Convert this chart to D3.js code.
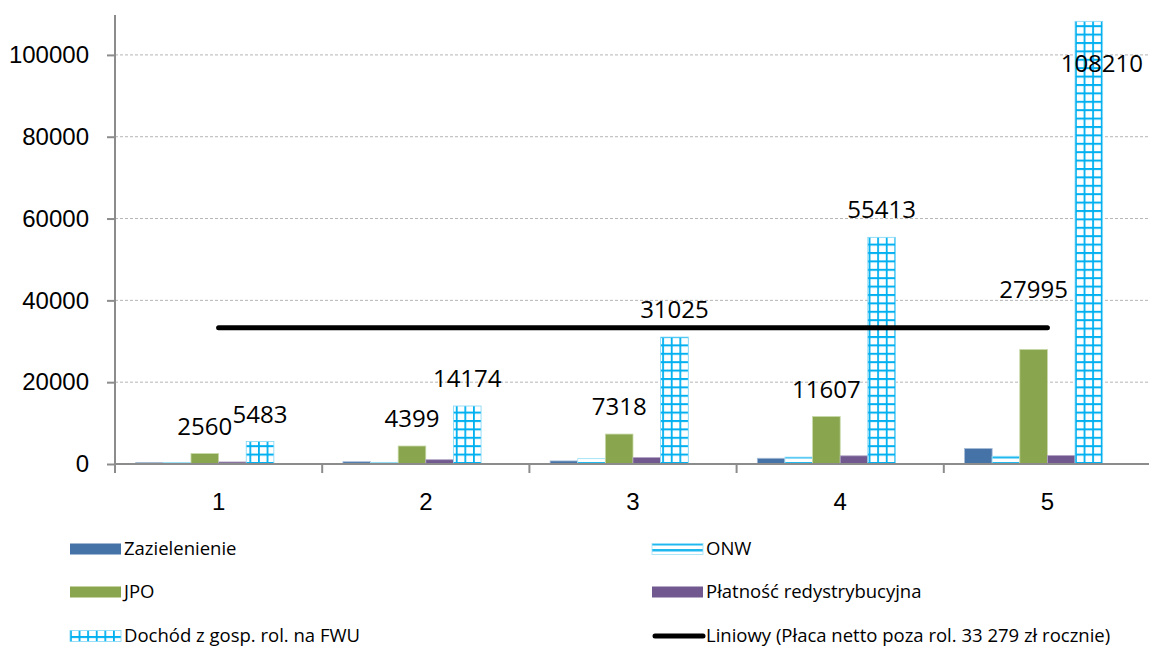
<!DOCTYPE html>
<html>
<head>
<meta charset="utf-8">
<script src="https://cdn.jsdelivr.net/npm/d3@7"></script>
<style>
  body { margin: 0; background: #fff; }
  svg { display: block; font-family: 'Open Sans', sans-serif; }
</style>
</head>
<body>
<svg id="chart"></svg>
<script>
'use strict';

var categories = ['1', '2', '3', '4', '5'];
var seriesNames = ['Zazielenienie', 'ONW', 'JPO', 'Płatność redystrybucyjna', 'Dochód z gosp. rol. na FWU'];
var zazielenienie = [380, 550, 750, 1400, 3800];
var onw = [350, 400, 1300, 1700, 1900];
var jpo = [2560, 4399, 7318, 11607, 27995];
var platnosc = [500, 1050, 1600, 2000, 2100];
var fwu = [5483, 14174, 31025, 55413, 108210];
var liniowy = [33279, 33279, 33279, 33279, 33279];
var liniowyName = 'Liniowy (Płaca netto poza rol. 33 279 zł rocznie)';
var yTicks = [0, 20000, 40000, 60000, 80000, 100000];
var labelled = ['JPO', 'Dochód z gosp. rol. na FWU'];

var width = 1149, height = 646;
var plotLeft = 115, plotTop = 14, plotBottom = 464, catWidth = 207.2;
var fontSize = '24px';

var svg = d3.select('#chart').attr('width', width).attr('height', height);

var defs = svg.append('defs');
var onwPat = defs.append('pattern')
  .attr('id', 'onw').attr('patternUnits', 'userSpaceOnUse')
  .attr('width', 8).attr('height', 6);
onwPat.append('rect').attr('width', 8).attr('height', 6).attr('fill', '#fff');
onwPat.append('rect').attr('y', 0).attr('width', 8).attr('height', 2.5).attr('fill', '#1fb8ef');

var gridPat = defs.append('pattern')
  .attr('id', 'fwu').attr('patternUnits', 'userSpaceOnUse')
  .attr('width', 8.6).attr('height', 8.4);
gridPat.append('rect').attr('width', 8.6).attr('height', 8.4).attr('fill', '#fff');
gridPat.append('rect').attr('x', 0).attr('width', 1.8).attr('height', 8.4).attr('fill', '#00b0f0');
gridPat.append('rect').attr('y', 0).attr('width', 8.6).attr('height', 2).attr('fill', '#00b0f0');

var series = [
  { name: seriesNames[0], values: zazielenienie, fill: '#4572a7', stroke: '#a9bcd6' },
  { name: seriesNames[1], values: onw, fill: 'url(#onw)', stroke: '#9fe0f8' },
  { name: seriesNames[2], values: jpo, fill: '#89a54e', stroke: '#c8d9a8' },
  { name: seriesNames[3], values: platnosc, fill: '#71588f', stroke: '#b3a6c4' },
  { name: seriesNames[4], values: fwu, fill: 'url(#fwu)', stroke: '#7fd6f6' }
];

var x0 = d3.scaleBand()
  .domain(categories)
  .range([plotLeft, plotLeft + categories.length * catWidth])
  .paddingInner(0).paddingOuter(0);

// six slots per category, the last one stays empty
var x1 = d3.scaleBand()
  .domain(d3.range(6))
  .range([0, x0.bandwidth()])
  .paddingInner(0).paddingOuter(0.75);

var y = d3.scaleLinear().domain([0, 110000]).range([plotBottom, plotTop]);

// gridlines
svg.append('g').selectAll('line')
  .data(yTicks.filter(t => t > 0))
  .enter().append('line')
  .attr('x1', plotLeft).attr('x2', width)
  .attr('y1', d => y(d)).attr('y2', d => y(d))
  .style('stroke', '#b5b5b5').style('stroke-width', 1)
  .style('stroke-dasharray', '3,2');

// bars
var groups = svg.append('g').selectAll('g')
  .data(series)
  .enter().append('g');

groups.selectAll('rect')
  .data((s, i) => s.values.map((v, j) => ({ v: v, cat: categories[j], idx: i, s: s })))
  .enter().append('rect')
  .attr('x', d => x0(d.cat) + x1(d.idx))
  .attr('width', x1.bandwidth())
  .attr('y', d => y(d.v))
  .attr('height', d => y(0) - y(d.v))
  .style('fill', d => d.s.fill)
  .style('stroke', d => d.s.stroke)
  .style('stroke-width', 0.8);

// line series
var lineY = y(liniowy[0]);
var line = d3.line()
  .x((d, i) => x0(categories[i]) + x0.bandwidth() / 2)
  .y(d => y(d));
svg.append('path')
  .datum(liniowy)
  .attr('d', line)
  .style('fill', 'none')
  .style('stroke', '#000')
  .style('stroke-width', 5)
  .style('stroke-linecap', 'round');

// axes
var yAxis = d3.axisLeft(y).tickValues(yTicks).tickSize(8).tickPadding(18).tickFormat(d3.format('d'));
var yG = svg.append('g').attr('transform', 'translate(' + plotLeft + ',0)').call(yAxis);
yG.select('.domain').remove();
yG.selectAll('line').style('stroke', '#8c8c8c').style('stroke-width', 2);
yG.selectAll('text').style('font-size', fontSize).style('fill', '#000');

svg.append('line')
  .attr('x1', plotLeft).attr('x2', plotLeft)
  .attr('y1', plotTop + 1).attr('y2', plotBottom + 9)
  .style('stroke', '#8c8c8c').style('stroke-width', 2);

svg.append('line')
  .attr('x1', plotLeft).attr('x2', width)
  .attr('y1', y(0)).attr('y2', y(0))
  .style('stroke', '#8c8c8c').style('stroke-width', 2);

var bounds = categories.map(c => x0(c)).concat([x0.range()[1]]);
svg.append('g').selectAll('line')
  .data(bounds)
  .enter().append('line')
  .attr('x1', d => d).attr('x2', d => d)
  .attr('y1', y(0)).attr('y2', y(0) + 9)
  .style('stroke', '#8c8c8c').style('stroke-width', 2);

var xAxis = d3.axisBottom(x0).tickSize(0).tickPadding(29);
var xG = svg.append('g').attr('transform', 'translate(0,' + y(0) + ')').call(xAxis);
xG.select('.domain').remove();
xG.selectAll('text').style('font-size', fontSize).style('fill', '#000');

// data labels
var labelData = [];
series.forEach((s, i) => {
  if (labelled.indexOf(s.name) < 0) return;
  s.values.forEach((v, j) => {
    var cx = x0(categories[j]) + x1(i) + x1.bandwidth() / 2;
    var top = y(v);
    var base = top - 19;
    var dx = 0;
    if (base - 17 < plotTop) {
      // no room above the plot: put it inside the bar
      base = top + 51;
      dx = 13;
    } else if (base - 17 < lineY + 3 && base + 4 > lineY - 3) {
      // keep clear of the line
      base = lineY - 30;
    }
    labelData.push({ v: v, x: cx + dx, y: base });
  });
});

svg.append('g').selectAll('text')
  .data(labelData)
  .enter().append('text')
  .attr('x', d => d.x)
  .attr('y', d => d.y)
  .attr('text-anchor', 'middle')
  .style('font-size', fontSize)
  .style('fill', '#000')
  .text(d => d.v);

// legend
var legendItems = series.map(s => ({ name: s.name, fill: s.fill, stroke: s.stroke }))
  .concat([{ name: liniowyName, isLine: true }]);
var legendCols = [70, 652], legendRows = [549, 592, 636];

var leg = svg.append('g').selectAll('g')
  .data(legendItems)
  .enter().append('g')
  .attr('transform', (d, i) => 'translate(' + legendCols[i % 2] + ',' + legendRows[Math.floor(i / 2)] + ')');

leg.each(function(d) {
  var g = d3.select(this);
  if (d.isLine) {
    g.append('line')
      .attr('x1', 3).attr('x2', 51).attr('y1', 0).attr('y2', 0)
      .style('stroke', '#000').style('stroke-width', 5).style('stroke-linecap', 'round');
  } else {
    g.append('rect')
      .attr('x', 0).attr('y', -5.5).attr('width', 51).attr('height', 11)
      .style('fill', d.fill)
      .style('stroke', d.fill.indexOf('url') === 0 ? d.stroke : 'none')
      .style('stroke-width', 0.8);
  }
  g.append('text')
    .attr('x', 54).attr('y', 0).attr('dy', '0.35em')
    .style('font-size', '18.5px')
    .style('fill', '#000')
    .text(d.name);
});
</script>
</body>
</html>
